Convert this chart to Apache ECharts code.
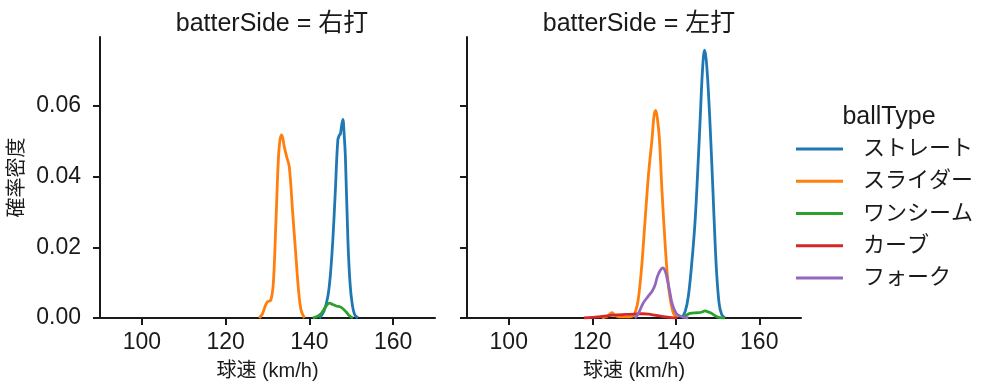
<!DOCTYPE html>
<html>
<head>
<meta charset="utf-8">
<script src="https://cdn.jsdelivr.net/npm/echarts@6/dist/echarts.min.js"></script>
<style>
  html, body { margin: 0; padding: 0; background: #fff; }
  #container { width: 995px; height: 391px; }
</style>
</head>
<body>
<div id="container"></div>
<script>
var dom = document.getElementById("container");
var myChart = echarts.init(dom);

// facet titles / legend
var panels = ['右打', '左打'];
var ballTypes = ['ストレート', 'スライダー', 'ワンシーム', 'カーブ', 'フォーク'];
var colors = ['#1f77b4', '#ff7f0e', '#2ca02c', '#d62728', '#9467bd'];
var xTicks = [100, 120, 140, 160];
var yTicks = [0, 0.02, 0.04, 0.06];

// 右打 : [球速, 確率密度]
var rStraight = [[142.4,0],[143.5,0.002],[144.4,0.006],[145.0,0.012],[145.6,0.022],[146.2,0.036],[146.8,0.0504],[147.2,0.0518],[147.4,0.052],[147.7,0.0545],[148.0,0.0562],[148.3,0.052],[148.6,0.0456],[149.2,0.022],[149.7,0.010],[150.2,0.0042],[150.8,0.001],[151.6,0]];
var rSlider = [[128.0,0],[128.8,0.0012],[129.5,0.0035],[130.0,0.0046],[130.8,0.0051],[131.4,0.010],[132.0,0.0268],[132.6,0.045],[133.0,0.0505],[133.4,0.0518],[134.0,0.0485],[134.6,0.0455],[135.2,0.0428],[136.0,0.030],[136.8,0.0173],[137.4,0.008],[138.0,0.0023],[138.8,0]];
var rOneSeam = [[140.8,0],[142.0,0.0005],[142.8,0.0012],[143.8,0.003],[144.8,0.0042],[145.6,0.0038],[146.4,0.0034],[147.6,0.003],[148.8,0.0017],[149.6,0.0006],[150.4,0]];

// 左打
var lStraight = [[141.5,0],[142.3,0.002],[143.0,0.006],[143.8,0.015],[144.6,0.0268],[145.2,0.040],[145.8,0.055],[146.4,0.070],[146.9,0.0758],[147.3,0.073],[147.8,0.0645],[148.4,0.050],[148.9,0.0362],[149.4,0.022],[149.8,0.0126],[150.4,0.004],[151.0,0.001],[151.8,0]];
var lSlider = [[122.3,0],[123.5,0.0004],[124.4,0.0013],[124.8,0.0015],[125.3,0.0008],[126.5,0.0003],[129.0,0.0003],[129.8,0.0006],[130.4,0.002],[131.0,0.0051],[131.8,0.014],[132.6,0.0268],[133.5,0.041],[134.3,0.0504],[134.8,0.0572],[135.2,0.0587],[135.6,0.0565],[136.1,0.0504],[136.7,0.036],[137.4,0.022],[138.0,0.012],[138.6,0.006],[139.4,0.0015],[140.3,0]];
var lOneSeam = [[141.8,0],[142.6,0.0008],[143.4,0.0013],[145.4,0.0015],[146.3,0.0017],[147.0,0.002],[147.8,0.0017],[148.6,0.0013],[149.6,0.0005],[150.6,0.0001],[151.8,0]];
var lCurve = [[118.0,0],[120,0.0002],[122,0.0004],[124,0.0007],[126,0.0009],[128,0.001],[130,0.0011],[132,0.0012],[133.5,0.0011],[135,0.0008],[137,0.0004],[139,0.0001],[140.3,0]];
var lFork = [[130.2,0],[131.0,0.0012],[132.2,0.0042],[133.3,0.006],[134.3,0.0075],[135.0,0.0092],[135.6,0.0117],[136.3,0.0135],[136.9,0.0142],[137.5,0.0132],[138.0,0.0108],[138.6,0.0072],[139.1,0.0042],[139.8,0.002],[140.6,0.0008],[143.0,0]];

var font = '"Liberation Sans", "Noto Sans CJK JP", sans-serif';
var ink = '#1a1a1a';

function line(name, idx, data) {
    return {
        name: name,
        type: 'line',
        xAxisIndex: idx,
        yAxisIndex: idx,
        data: data,
        smooth: 0.35,
        showSymbol: false,
        symbol: 'none',
        lineStyle: { width: 2.8, color: colors[ballTypes.indexOf(name)] },
        itemStyle: { color: colors[ballTypes.indexOf(name)] },
        z: 3
    };
}

function xAxis(idx) {
    return {
        type: 'value', gridIndex: idx, min: 90, max: 170,
        name: '球速 (km/h)', nameLocation: 'middle', nameGap: 43,
        nameTextStyle: { fontSize: 20, color: ink, fontFamily: font },
        axisLine: { show: true, onZero: false, lineStyle: { color: ink, width: 2 } },
        axisTick: { show: true, customValues: xTicks, length: 7, lineStyle: { color: ink, width: 2 } },
        axisLabel: { customValues: xTicks, fontSize: 23, color: ink, margin: 13, fontFamily: font },
        splitLine: { show: false }
    };
}

function yAxis(idx) {
    return {
        type: 'value', gridIndex: idx, min: 0, max: 0.0795,
        name: idx === 0 ? '確率密度' : '', nameLocation: 'middle', nameGap: 73,
        nameTextStyle: { fontSize: 20, color: ink, fontFamily: font },
        axisLine: { show: true, onZero: false, lineStyle: { color: ink, width: 2 } },
        axisTick: { show: true, customValues: yTicks, length: 7, lineStyle: { color: ink, width: 2 } },
        axisLabel: {
            show: idx === 0, customValues: yTicks, fontSize: 23, color: ink, margin: 19, fontFamily: font,
            formatter: function (v) { return v.toFixed(2); }
        },
        splitLine: { show: false }
    };
}

option = {
    animation: false,
    color: colors,
    title: [{
        text: 'batterSide = ' + panels[0], left: 267, top: 7, textAlign: 'center',
        textStyle: { fontSize: 25, fontWeight: 'normal', color: ink, fontFamily: font }
    }, {
        text: 'batterSide = ' + panels[1], left: 634, top: 7, textAlign: 'center',
        textStyle: { fontSize: 25, fontWeight: 'normal', color: ink, fontFamily: font }
    }, {
        text: 'ballType', left: 884, top: 100, textAlign: 'center',
        textStyle: { fontSize: 25, fontWeight: 'normal', color: ink, fontFamily: font }
    }],
    legend: {
        data: ballTypes,
        orient: 'vertical',
        left: 796, top: 138,
        padding: 0,
        icon: 'rect',
        itemWidth: 47, itemHeight: 3,
        itemGap: 10.25,
        textStyle: { fontSize: 22, lineHeight: 22, color: ink, fontFamily: font, padding: [0, 0, 0, 15] },
        selectedMode: false
    },
    grid: [
        { left: 100, top: 37, width: 335, height: 281 },
        { left: 467, top: 37, width: 334, height: 281 }
    ],
    xAxis: [xAxis(0), xAxis(1)],
    yAxis: [yAxis(0), yAxis(1)],
    series: [
        line('ストレート', 0, rStraight),
        line('スライダー', 0, rSlider),
        line('ワンシーム', 0, rOneSeam),
        line('ストレート', 1, lStraight),
        line('スライダー', 1, lSlider),
        line('ワンシーム', 1, lOneSeam),
        line('カーブ', 1, lCurve),
        line('フォーク', 1, lFork)
    ]
};
if (option && typeof option === "object") {
    myChart.setOption(option, true);
}
</script>
</body>
</html>
